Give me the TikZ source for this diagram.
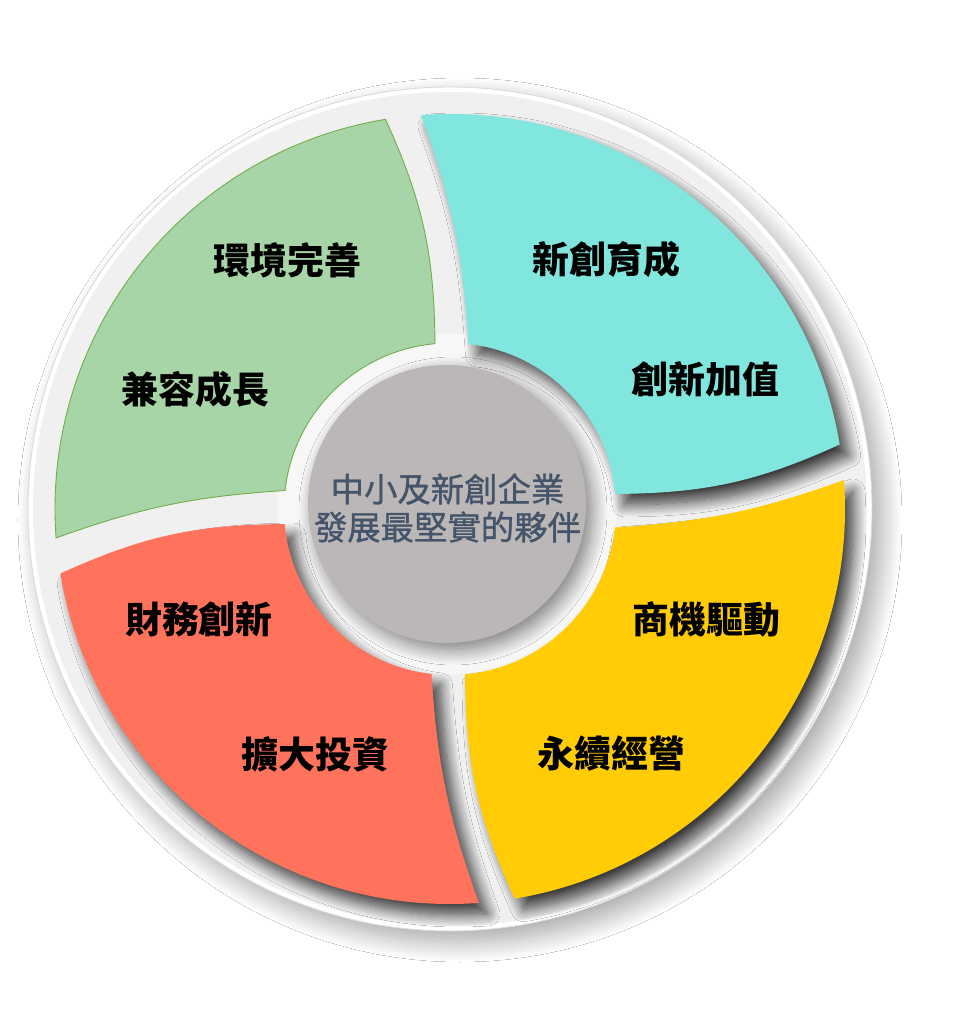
\documentclass[tikz,border=0pt]{standalone}
\usepackage{fontspec}
\newfontfamily\cjk{Noto Sans CJK TC}
\newfontfamily\hubfont{Noto Sans CJK TC}[FakeBold=1]
\usetikzlibrary{shadows.blur}

\definecolor{diskfill}{HTML}{F0F0F0}
\definecolor{ringfill}{HTML}{F7F7F7}
\definecolor{segteal}{HTML}{80E6DE}
\definecolor{seggreen}{HTML}{A8D5A8}
\definecolor{greenedge}{HTML}{70AD47}
\definecolor{segred}{HTML}{FF735C}
\definecolor{segyellow}{HTML}{FFCC05}
\definecolor{hubgray}{HTML}{BBB7B7}
\definecolor{hubink}{HTML}{44546A}

\begin{document}
\begin{tikzpicture}[x=0.02cm,y=0.02cm,
  seg shadow/.style={blur shadow={shadow xshift=0.18cm,shadow yshift=-0.22cm,
      shadow blur radius=0.24cm,shadow blur steps=14,shadow opacity=75}},
  teal seg/.style={fill=segteal,seg shadow},
  green seg/.style={fill=seggreen,draw=greenedge,line width=0.5pt},
  red seg/.style={fill=segred,seg shadow},
  yellow seg/.style={fill=segyellow,seg shadow},
  seglabel/.style={font=\cjk\bfseries\fontsize{21}{25}\selectfont,inner sep=0pt},
  hublabel/.style={font=\hubfont\fontsize{19}{21.6}\selectfont,text=hubink,
      align=center,inner sep=0pt}]

  \useasboundingbox (-450,-505) rectangle (505,509);
  \fill[white] (-450,-505) rectangle (505,509);

  % outer disk
  \fill[white,blur shadow={shadow xshift=0.2cm,shadow yshift=-0.22cm,
      shadow blur radius=0.4cm,shadow blur steps=24,shadow opacity=35}] (0,0) circle (422);
  \draw[gray!30,line width=0.5pt] (0,0) circle (422);
  \fill[diskfill] (0,0) circle (417);
  \fill[ringfill] (-3,5) circle (170);

  % four segments
  \foreach \a/\sty in {0/teal seg,90/green seg,180/red seg,270/yellow seg}
    \path[\sty] (\a+9.4:395) arc[start angle=\a+9.4,end angle=\a+94.2,radius=395]
      to[bend left=8] (\a+83.6:166)
      arc[start angle=\a+83.6,end angle=\a+5.2,radius=166]
      to[bend right=12] (\a+9.4:395) -- cycle;

  % hub
  \fill[hubgray,blur shadow={shadow xshift=0.12cm,shadow yshift=-0.14cm,
      shadow blur radius=0.3cm,shadow blur steps=14,shadow opacity=50}] (-3,5) circle (139);
  \node[hublabel] (hub) at (-2.5,1) {中小及新創企業\\發展最堅實的夥伴};

  % labels
  \node[seglabel] (environ) at (-162.5,249) {環境完善};
  \node[seglabel] (inclusive) at (-254.3,120) {兼容成長};
  \node[seglabel] (startup) at (156.5,250) {新創育成};
  \node[seglabel] (valueadd) at (255.5,130) {創新加值};
  \node[seglabel] (finance) at (-251,-110) {財務創新};
  \node[seglabel] (invest) at (-134.4,-245) {擴大投資};
  \node[seglabel] (business) at (256.5,-110) {商機驅動};
  \node[seglabel] (sustain) at (161.5,-245) {永續經營};
\end{tikzpicture}
\end{document}
